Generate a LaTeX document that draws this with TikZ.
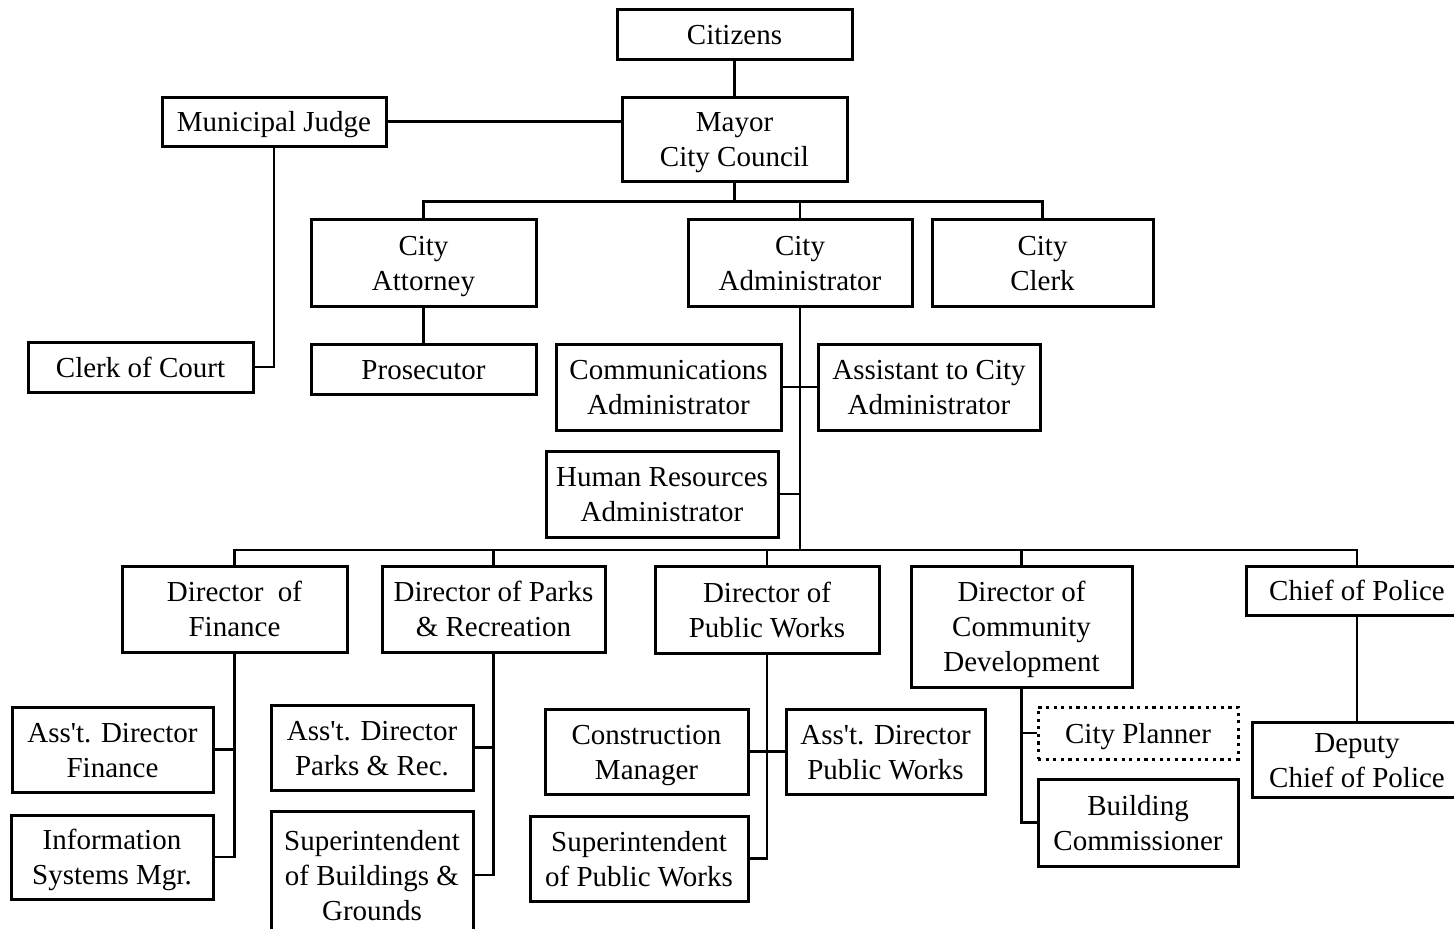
\documentclass[tikz,border=0pt]{standalone}
\usepackage{fontspec}
\setmainfont{Liberation Serif}
\usetikzlibrary{calc}
\newcommand\capstrut{\rule[-4pt]{0pt}{18.4pt}}
\newcommand\cs{\capstrut}
\begin{document}
\begin{tikzpicture}[x=0.5pt,y=-0.5pt,
  box/.style={draw, line width=1.5pt, align=center, inner sep=0pt,
    font=\fontsize{14.5}{17.5}\selectfont,
    execute at begin node=\capstrut, execute at end node=\capstrut},
  wh/.style 2 args={minimum width=#1*0.5pt, minimum height=#2*0.5pt},
  dotbox/.style={box, dash pattern=on 1.6pt off 2.2pt},
  link/.style={line width=1.3pt}]
\useasboundingbox (0,0) rectangle (1454,928);
\clip (0,0) rectangle (1454,928);
\fill[white] (0,0) rectangle (1454,928);

\node[box, wh={235}{50}] (cit) at (734.5,34) {Citizens};
\node[box, wh={225}{84}] (may) at (734.5,139) {\cs Mayor\\City Council};
\node[box, wh={224}{49}] (jud) at (274,121.5) {Municipal Judge};
\node[box, wh={225}{50}] (clk) at (140.5,367) {Clerk of Court};
\node[box, wh={225}{87}] (att) at (423.5,262.5) {\cs City\\Attorney};
\node[box, wh={224}{87}] (adm) at (800,262.5) {\cs City\\Administrator};
\node[box, wh={221}{87}] (ccl) at (1042.5,262.5) {\cs City\\Clerk};
\node[box, wh={225}{50}] (pro) at (423.5,369) {Prosecutor};
\node[box, wh={225}{86}] (com) at (668.5,387) {\cs Communications\\Administrator};
\node[box, wh={222}{86}] (ast) at (929,387) {\cs Assistant to City\\Administrator};
\node[box, wh={232}{86}] (hr) at (662,494) {\cs Human Resources\\Administrator};
\node[box, wh={225}{86}] (fin) at (234.5,609) {\cs Director\ \ of\\Finance};
\node[box, wh={223}{86}] (par) at (493.5,609) {\cs Director of Parks\\\& Recreation};
\node[box, wh={224}{87}] (pw) at (767,609.5) {\cs Director of\\Public Works};
\node[box, wh={221}{121}] (cd) at (1021.5,626.5) {\cs Director of\\Community\\Development};
\node[box, wh={222}{49}] (pol) at (1357,590.5) {Chief of Police};
\node[box, wh={201}{85}] (afin) at (112.5,749.5) {\cs Ass\textquotesingle t. Director\\Finance};
\node[box, wh={202}{84}] (isys) at (112,857) {\cs Information\\Systems Mgr.};
\node[box, wh={202}{85}] (apr) at (372,747.5) {\cs Ass\textquotesingle t. Director\\Parks \& Rec.};
\node[box, wh={202}{128}] (sbg) at (372,875) {\cs Superintendent\\of Buildings \&\\Grounds};
\node[box, wh={203}{85}] (cm) at (646.5,751.5) {\cs Construction\\Manager};
\node[box, wh={199}{85}] (apw) at (885.5,751.5) {\cs Ass\textquotesingle t. Director\\Public Works};
\node[box, wh={218}{85}] (spw) at (639,858.5) {\cs Superintendent\\of Public Works};
\node[dotbox, wh={200}{52}] (cp) at (1138,733) {City Planner};
\node[box, wh={200}{87}] (bc) at (1138,822.5) {\cs Building\\Commissioner};
\node[box, wh={210}{75}] (dep) at (1357,759.5) {\cs Deputy\\Chief of Police};

\coordinate (bus1) at ($(may.south)+(0,19)$);
\coordinate (bus2) at (800,550);

\draw[link] (cit.south) -- (may.north);
\draw[link] (jud.east) -- (jud.east -| may.west);
\draw[link] (jud.south) |- (clk.east);
\draw[link] (may.south) -- (bus1);
\draw[link] (att.north) |- (bus1) -| (ccl.north);
\draw[link] (adm.north) -- (adm.north |- bus1);
\draw[link] (att.south) -- (pro.north);
\draw[link] (adm.south) -- (bus2);
\draw[link] (com.east) -- (com.east -| adm.south);
\draw[link] (ast.west) -- (ast.west -| adm.south);
\draw[link] (hr.east) -- (hr.east -| adm.south);
\draw[link] (fin.north) |- (bus2) -| (pol.north);
\draw[link] (par.north) -- (par.north |- bus2);
\draw[link] (pw.north) -- (pw.north |- bus2);
\draw[link] (cd.north) -- (cd.north |- bus2);
\draw[link] (fin.south) |- (isys.east);
\draw[link] (afin.east) -- (afin.east -| fin.south);
\draw[link] (par.south) |- (sbg.east);
\draw[link] (apr.east) -- (apr.east -| par.south);
\draw[link] (pw.south) |- (spw.east);
\draw[link] (cm.east) -- (cm.east -| pw.south);
\draw[link] (apw.west) -- (apw.west -| pw.south);
\draw[link] (cd.south) |- (bc.west);
\draw[link] (cp.west) -- (cp.west -| cd.south);
\draw[link] (pol.south) -- (dep.north);
\end{tikzpicture}
\end{document}
